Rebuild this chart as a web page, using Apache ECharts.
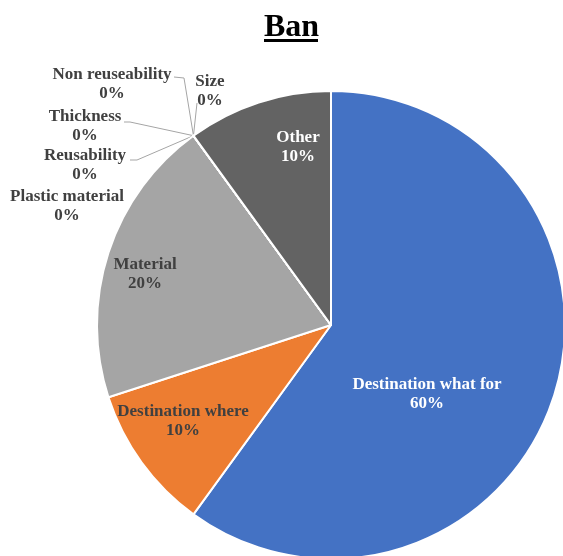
<!DOCTYPE html>
<html>
<head>
<meta charset="utf-8">
<script src="https://cdn.jsdelivr.net/npm/echarts@6/dist/echarts.min.js"></script>
<style>html,body{margin:0;padding:0;background:#fff}#c{width:563px;height:556px}</style>
</head>
<body>
<div id="c"></div>
<script>
const titleText = 'Ban';
const categories = ['Destination what for','Destination where','Material','Plastic material','Reusability','Thickness','Non reuseability','Size','Other'];
const values = [60, 10, 20, 0, 0, 0, 0, 0, 10];
const colors = ['#4472C4','#ED7D31','#A5A5A5','#FFC000','#5B9BD5','#70AD47','#264478','#9E480E','#636363'];

// label layout (positions only)
const labelPos = {
  'Destination what for': {x:427, y:394},
  'Destination where': {x:183, y:421},
  'Material': {x:145, y:274},
  'Other': {x:298, y:147},
  'Plastic material': {x:67, y:206},
  'Reusability': {x:85, y:165},
  'Thickness': {x:85, y:126},
  'Non reuseability': {x:112, y:84},
  'Size': {x:210, y:91}
};
const linePts = {
  'Reusability': [[137,160],[130,160]],
  'Thickness': [[130,122],[124,122]],
  'Non reuseability': [[184,78],[174,77]],
  'Size': [[197,103]]
};
const whiteLabels = ['Destination what for','Other'];

const data = categories.map((name, i) => {
  const zero = values[i] === 0;
  return {
    name, value: values[i],
    itemStyle: {color: colors[i]},
    label: {
      position: zero ? 'outside' : 'inside',
      color: whiteLabels.includes(name) ? '#ffffff' : '#404040'
    },
    labelLine: {show: zero && name !== 'Plastic material'}
  };
});

const chart = echarts.init(document.getElementById('c'));
chart.setOption({
  animation: false,
  title: {
    text: titleText, left: 264, top: 12, padding: 0,
    textStyle: {fontFamily: 'Liberation Serif', fontWeight: 'bold', fontSize: 32, color: '#000'}
  },
  graphic: [{type: 'rect', left: 264, top: 39, shape: {width: 54, height: 3}, style: {fill: '#000'}}],
  series: [{
    type: 'pie',
    center: [331, 325],
    radius: 234,
    startAngle: 90,
    clockwise: true,
    avoidLabelOverlap: false,
    minShowLabelAngle: 0,
    itemStyle: {borderColor: '#fff', borderWidth: 2},
    label: {
      show: true,
      fontFamily: 'Liberation Serif', fontWeight: 'bold', fontSize: 17, lineHeight: 19,
      formatter: p => p.name + '\n' + Math.round(p.percent) + '%'
    },
    labelLine: {lineStyle: {color: '#A5A5A5', width: 1}, length: 10, length2: 10},
    labelLayout: function (params) {
      const name = categories[params.dataIndex];
      const pos = labelPos[name];
      const out = {x: pos.x, y: pos.y, align: 'center', verticalAlign: 'middle'};
      if (linePts[name] && params.labelLinePoints) {
        out.labelLinePoints = [params.labelLinePoints[0]].concat(linePts[name]);
      }
      return out;
    },
    data: data
  }]
});
</script>
</body>
</html>
